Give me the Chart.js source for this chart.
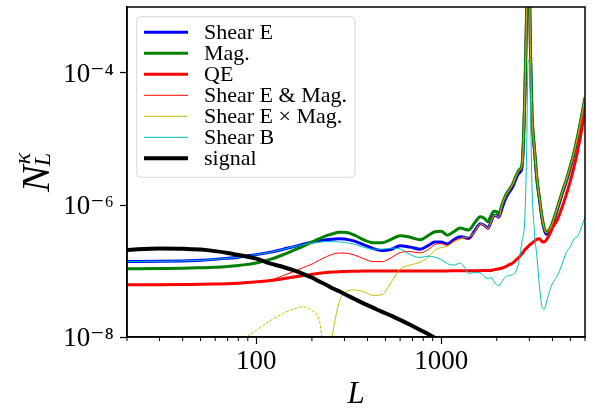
<!DOCTYPE html>
<html lang="en">
<head>
  <meta charset="UTF-8">
  <title>Lensing reconstruction noise</title>
  <script src="https://cdn.jsdelivr.net/npm/chart.js"></script>
  <style>body { margin: 0; background: #fff; }</style>
</head>
<body>
  <canvas id="noiseChart" width="595" height="410"></canvas>

  <script>
    // multipoles
    const L = [20, 30, 40, 50, 60, 70, 80, 90, 100, 120, 140, 160, 180, 200, 220, 240, 260, 280, 300,
      340, 380, 430, 480, 540, 600, 680, 770, 850, 925, 1000, 1080, 1170, 1270, 1340, 1410, 1520, 1630,
      1710, 1790, 1860, 1930, 1990, 2050, 2140, 2240, 2340, 2440, 2540, 2640, 2740, 2840, 2900, 2950,
      3000, 3050, 3100, 3200, 3300, 3400, 3500, 3600, 3700, 3800, 3900, 4000, 4250, 4500, 4750, 5000,
      5250, 5500, 5750, 6000];

    const shearE = [1.39e-7, 1.40e-7, 1.42e-7, 1.45e-7, 1.50e-7, 1.56e-7, 1.62e-7, 1.71e-7, 1.77e-7,
      1.93e-7, 2.14e-7, 2.34e-7, 2.55e-7, 2.74e-7, 2.88e-7, 2.98e-7, 3.04e-7, 3.09e-7, 3.06e-7,
      2.83e-7, 2.51e-7, 2.18e-7, 2.04e-7, 2.14e-7, 2.42e-7, 2.30e-7, 2.14e-7, 2.42e-7, 2.74e-7,
      2.74e-7, 2.57e-7, 2.98e-7, 3.31e-7, 3.25e-7, 3.12e-7, 4.08e-7, 5.2e-7, 4.94e-7, 4.45e-7,
      5.57e-7, 6.87e-7, 7.0e-7, 6.52e-7, 9.07e-7, 1.28e-6, 1.58e-6, 1.88e-6, 2.49e-6, 3.06e-6,
      3.78e-6, 4.77e-5, 7.96e-4, 4.5e-3, 2.26e-3, 1.40e-4, 2.30e-5, 6.58e-6, 2.32e-6, 1.24e-6,
      6.6e-7, 4.37e-7, 3.61e-7, 3.8e-7, 4.22e-7, 5.02e-7, 8.47e-7, 1.43e-6, 2.24e-6, 3.65e-6,
      6.14e-6, 1.11e-5, 2.07e-5, 4.01e-5];

    const mag = [1.08e-7, 1.09e-7, 1.10e-7, 1.12e-7, 1.14e-7, 1.17e-7, 1.21e-7, 1.26e-7, 1.32e-7,
      1.51e-7, 1.77e-7, 2.07e-7, 2.38e-7, 2.74e-7, 3.09e-7, 3.43e-7, 3.67e-7, 3.85e-7, 3.85e-7,
      3.49e-7, 2.98e-7, 2.69e-7, 2.69e-7, 3.04e-7, 3.43e-7, 3.25e-7, 2.98e-7, 3.43e-7, 3.94e-7,
      4.01e-7, 3.49e-7, 3.94e-7, 4.48e-7, 4.30e-7, 4.18e-7, 5.39e-7, 6.63e-7, 6.29e-7, 5.57e-7,
      6.87e-7, 8.04e-7, 7.98e-7, 7.45e-7, 1.04e-6, 1.43e-6, 1.73e-6, 2.09e-6, 2.76e-6, 3.40e-6,
      4.19e-6, 5.3e-5, 8.55e-4, 4.85e-3, 2.42e-3, 1.50e-4, 2.47e-5, 7.05e-6, 2.49e-6, 1.33e-6,
      7.11e-7, 4.69e-7, 3.87e-7, 4.08e-7, 4.53e-7, 5.39e-7, 9.07e-7, 1.53e-6, 2.40e-6, 3.91e-6,
      6.58e-6, 1.19e-5, 2.22e-5, 4.30e-5];

    const qe = [6.18e-8, 6.2e-8, 6.24e-8, 6.28e-8, 6.35e-8, 6.42e-8, 6.53e-8, 6.69e-8, 6.86e-8,
      7.18e-8, 7.61e-8, 8.11e-8, 8.54e-8, 8.9e-8, 9.22e-8, 9.48e-8, 9.64e-8, 9.75e-8, 9.82e-8,
      9.91e-8, 9.98e-8, 1.0e-7, 1.0e-7, 1.0e-7, 1.0e-7, 1.0e-7, 1.0e-7, 1.0e-7, 1.0e-7,
      1.0e-7, 1.0e-7, 1.01e-7, 1.01e-7, 1.01e-7, 1.01e-7, 1.01e-7, 1.01e-7, 1.02e-7, 1.02e-7,
      1.02e-7, 1.05e-7, 1.06e-7, 1.08e-7, 1.11e-7, 1.17e-7, 1.25e-7, 1.32e-7, 1.46e-7, 1.62e-7,
      1.83e-7, 2.11e-7, 2.22e-7, 2.34e-7, 2.46e-7, 2.55e-7, 2.64e-7, 2.83e-7, 3.04e-7, 3.09e-7,
      2.83e-7, 2.74e-7, 2.93e-7, 3.31e-7, 3.8e-7, 4.53e-7, 5.98e-7, 9.07e-7, 1.43e-6, 2.32e-6,
      3.91e-6, 7.05e-6, 1.36e-5, 2.83e-5];

    const shearEandMag = [6.18e-8, 6.2e-8, 6.24e-8, 6.28e-8, 6.35e-8, 6.42e-8, 6.53e-8, 6.69e-8, 6.83e-8,
      7.3e-8, 8.54e-8, 9.82e-8, 1.13e-7, 1.27e-7, 1.46e-7, 1.65e-7, 1.80e-7, 1.87e-7, 1.87e-7,
      1.74e-7, 1.54e-7, 1.39e-7, 1.39e-7, 1.60e-7, 1.90e-7, 1.97e-7, 1.88e-7, 2.11e-7, 2.51e-7,
      2.6e-7, 2.46e-7, 2.83e-7, 3.14e-7, 3.09e-7, 2.98e-7, 4.01e-7, 5.11e-7, 4.85e-7, 4.37e-7,
      5.48e-7, 6.75e-7, 6.87e-7, 6.41e-7, 1.01e-6, 1.38e-6, 1.67e-6, 2.02e-6, 2.67e-6, 3.28e-6,
      4.05e-6, 5.1e-5, 8.25e-4, 4.67e-3, 2.34e-3, 1.45e-4, 2.38e-5, 6.8e-6, 2.40e-6, 1.28e-6,
      6.87e-7, 4.53e-7, 3.74e-7, 3.94e-7, 4.37e-7, 5.2e-7, 8.77e-7, 1.48e-6, 2.32e-6, 3.78e-6,
      6.35e-6, 1.15e-5, 2.15e-5, 4.15e-5];

    // cross term, signed (negative part is drawn dashed)
    const shearExMag = [null, null, null, null, null, null, -7.0e-9, -1.03e-8, -1.26e-8,
      -1.79e-8, -2.28e-8, -2.67e-8, -2.86e-8, -2.53e-8, -1.73e-8, -3.0e-9, 1.22e-8, 3.23e-8, 4.65e-8,
      5.15e-8, 4.9e-8, 4.26e-8, 4.41e-8, 6.93e-8, 1.07e-7, 1.23e-7, 1.36e-7, 1.62e-7, 2.07e-7,
      2.26e-7, 2.38e-7, 2.74e-7, 3.04e-7, 3.25e-7, 3.31e-7, 3.94e-7, 5.2e-7, 4.94e-7, 4.45e-7,
      5.57e-7, 6.87e-7, 7.0e-7, 6.52e-7, 1.03e-6, 1.40e-6, 1.70e-6, 2.06e-6, 2.72e-6, 3.34e-6,
      4.12e-6, 5.2e-5, 8.4e-4, 4.75e-3, 2.38e-3, 1.48e-4, 2.42e-5, 6.93e-6, 2.44e-6, 1.30e-6,
      7.0e-7, 4.6e-7, 3.8e-7, 4.0e-7, 4.45e-7, 5.3e-7, 8.93e-7, 1.51e-6, 2.36e-6, 3.85e-6,
      6.46e-6, 1.17e-5, 2.19e-5, 4.22e-5];

    const shearB = [1.39e-7, 1.40e-7, 1.42e-7, 1.45e-7, 1.50e-7, 1.56e-7, 1.62e-7, 1.71e-7, 1.77e-7,
      1.93e-7, 2.14e-7, 2.34e-7, 2.51e-7, 2.64e-7, 2.74e-7, 2.79e-7, 2.79e-7, 2.76e-7, 2.71e-7,
      2.55e-7, 2.30e-7, 2.14e-7, 2.14e-7, 2.22e-7, 2.16e-7, 1.77e-7, 1.60e-7, 1.68e-7, 1.62e-7,
      1.49e-7, 1.29e-7, 1.23e-7, 1.32e-7, 1.13e-7, 9.16e-8, 9.48e-8, 9.31e-8, 8.24e-8, 7.69e-8,
      7.96e-8, 6.93e-8, 6.24e-8, 6.03e-8, 6.93e-8, 8.24e-8, 8.54e-8, 8.84e-8, 9.82e-8, 1.44e-7,
      2.88e-7, 6.85e-7, 6.55e-6, 1.40e-4, 1.6e-4, 1.87e-5, 1.94e-6, 3.8e-7, 1.60e-7, 6.03e-8,
      3.01e-8, 2.62e-8, 3.23e-8, 4.26e-8, 5.43e-8, 6.47e-8, 8.5e-8, 1.25e-7, 1.90e-7, 2.34e-7,
      3.09e-7, 3.42e-7, 4.69e-7, 6.6e-7];

    // signal drops below the axis after L ~ 1000
    const signal = [2.08e-7, 2.2e-7, 2.18e-7, 2.11e-7, 2.0e-7, 1.88e-7, 1.75e-7, 1.64e-7, 1.54e-7,
      1.29e-7, 1.15e-7, 1.02e-7, 9.0e-8, 7.96e-8, 6.93e-8, 6.14e-8, 5.43e-8, 4.98e-8, 4.49e-8,
      3.77e-8, 3.23e-8, 2.76e-8, 2.40e-8, 2.09e-8, 1.82e-8, 1.53e-8, 1.28e-8, 1.11e-8, 9.7e-9,
      8.6e-9, 7.6e-9];

    const xMajor = [100, 1000];
    const xMinor = [20, 30, 40, 50, 60, 70, 80, 90, 200, 300, 400, 500, 600, 700, 800, 900,
      2000, 3000, 4000, 5000, 6000];
    const yTicks = [1e-8, 1e-6, 1e-4];
    const yTickLabels = ['10⁻⁸', '10⁻⁶', '10⁻⁴'];

    const serif = '"Liberation Serif", "DejaVu Serif", serif';

    function toPoints(vals) {
      return vals.map((v, i) => ({ x: L[i], y: v === null ? null : Math.abs(v) }));
    }

    function line(label, vals, color, width, order) {
      return {
        label: label,
        data: toPoints(vals),
        borderColor: color,
        borderWidth: width,
        pointRadius: 0,
        cubicInterpolationMode: 'monotone',
        clip: 0,
        order: order
      };
    }

    const crossSet = line('Shear E × Mag.', shearExMag, '#bfbf00', 1, 3);
    crossSet.segment = {
      borderDash: ctx => (shearExMag[ctx.p0DataIndex] < 0 && shearExMag[ctx.p1DataIndex] < 0) ? [3, 1.6] : undefined
    };

    const datasets = [
      line('Shear E', shearE, '#0000ff', 3, 7),
      line('Mag.', mag, '#008000', 3, 6),
      line('QE', qe, '#ff0000', 3, 5),
      line('Shear E & Mag.', shearEandMag, '#ff0000', 1, 4),
      crossSet,
      line('Shear B', shearB, '#00bfbf', 1, 2),
      line('signal', signal, '#000000', 4, 1)
    ];

    // frame, minor ticks, legend and y-axis label
    const decor = {
      id: 'decor',
      afterDraw(chart) {
        const ctx = chart.ctx;
        const a = chart.chartArea;
        const xs = chart.scales.x;
        ctx.save();

        ctx.strokeStyle = '#000';
        ctx.lineWidth = 1;
        ctx.beginPath();
        xMinor.forEach(v => {
          const px = xs.getPixelForValue(v);
          ctx.moveTo(px, a.bottom);
          ctx.lineTo(px, a.bottom + 4);
        });
        ctx.stroke();

        ctx.lineWidth = 1.5;
        ctx.strokeRect(a.left, a.top, a.right - a.left, a.bottom - a.top);

        // legend
        const ds = chart.data.datasets;
        ctx.font = '22px ' + serif;
        let maxW = 0;
        ds.forEach(d => { maxW = Math.max(maxW, ctx.measureText(d.label).width); });
        const bx = a.left + 9.7, by = a.top + 9.7;
        const bw = 67.3 + maxW + 8, bh = ds.length * 21 + 13.6;
        ctx.beginPath();
        ctx.roundRect(bx, by, bw, bh, 4);
        ctx.fillStyle = 'rgba(255,255,255,0.8)';
        ctx.fill();
        ctx.strokeStyle = '#d6d6d6';
        ctx.lineWidth = 1;
        ctx.stroke();
        ds.forEach((d, i) => {
          const yy = by + 15.6 + i * 21;
          ctx.beginPath();
          ctx.strokeStyle = d.borderColor;
          ctx.lineWidth = d.borderWidth;
          ctx.moveTo(bx + 7.3, yy);
          ctx.lineTo(bx + 51.3, yy);
          ctx.stroke();
          ctx.fillStyle = '#000';
          ctx.textBaseline = 'middle';
          ctx.textAlign = 'left';
          ctx.fillText(d.label, bx + 67.3, yy + 1);
        });

        // y title N_L^kappa, rotated
        ctx.translate(34, (a.top + a.bottom) / 2);
        ctx.rotate(-Math.PI / 2);
        ctx.fillStyle = '#000';
        ctx.textBaseline = 'alphabetic';
        ctx.textAlign = 'left';
        ctx.font = 'italic 40px ' + serif;
        const x0 = -20;
        ctx.fillText('N', x0, 15);
        const wN = ctx.measureText('N').width;
        ctx.font = 'italic 24px ' + serif;
        ctx.fillText('κ', x0 + wN + 1, -4);
        ctx.fillText('L', x0 + wN - 1, 16);
        ctx.restore();
      }
    };

    const config = {
      type: 'line',
      data: { datasets: datasets },
      options: {
        responsive: false,
        animation: false,
        devicePixelRatio: 1,
        layout: { padding: { left: 0, right: 10, top: 7, bottom: 0 } },
        plugins: {
          legend: { display: false },
          tooltip: { enabled: false }
        },
        scales: {
          x: {
            type: 'logarithmic',
            min: 20,
            max: 6000,
            afterBuildTicks: s => { s.ticks = xMajor.map(v => ({ value: v })); },
            afterFit: s => { s.height = 73; s.paddingLeft = 0; s.paddingRight = 0; },
            ticks: {
              color: '#000',
              font: { family: serif, size: 27 },
              padding: 2,
              maxRotation: 0,
              autoSkip: false,
              callback: v => String(v)
            },
            grid: { drawOnChartArea: false, drawTicks: true, tickLength: 7, tickWidth: 1.2, tickColor: '#000' },
            border: { display: true, color: '#000', width: 1.5 },
            title: {
              display: true,
              text: 'L',
              color: '#000',
              font: { family: serif, size: 31, style: 'italic', lineHeight: 1 },
              padding: { top: 0, bottom: 0 }
            }
          },
          y: {
            type: 'logarithmic',
            min: 1e-8,
            max: 1e-3,
            afterBuildTicks: s => { s.ticks = yTicks.map(v => ({ value: v })); },
            afterFit: s => { s.width = 127; s.paddingTop = 0; s.paddingBottom = 0; },
            ticks: {
              color: '#000',
              font: { family: serif, size: 27 },
              padding: 6,
              labelOffset: 2,
              autoSkip: false,
              callback: v => yTickLabels[yTicks.indexOf(v)]
            },
            grid: { drawOnChartArea: false, drawTicks: true, tickLength: 7, tickWidth: 1.2, tickColor: '#000' },
            border: { display: true, color: '#000', width: 1.5 }
          }
        }
      },
      plugins: [decor]
    };

    new Chart(document.getElementById('noiseChart'), config);
  </script>
</body>
</html>
